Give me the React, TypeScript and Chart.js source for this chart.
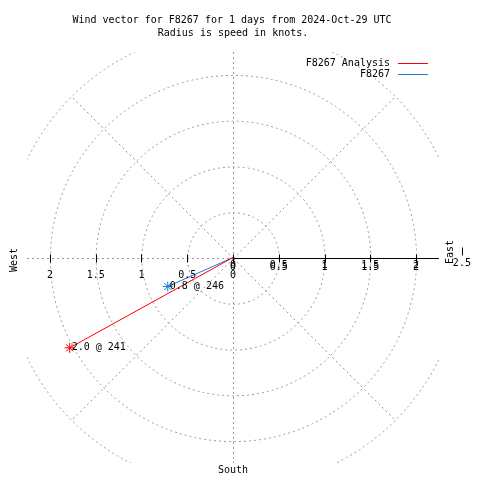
import React, { useEffect, useRef } from "react";
import { Chart, registerables } from "chart.js";

Chart.register(...registerables);

// ---- data ----
const titleLines = ["Wind vector for F8267 for 1 days from 2024-Oct-29 UTC", "Radius is speed in knots."];
const seriesNames = ["F8267 Analysis", "F8267"];
const seriesColors = ["#ff0000", "#1f78d8"];
const speeds = [2.04, 0.78]; // knots
const directions = [241, 246]; // degrees
const ringRadii = [0.5, 1, 1.5, 2, 2.5];
const spokeAngles = [45, 135, 225, 315];
const rightTicks = [0, 0.5, 1, 1.5, 2, 2.5];
const leftTicks = [2, 1.5, 1, 0.5, 0];
const compassLabels = ["West", "East", "South"];

const FONT = '10px "DejaVu Sans Mono", monospace';

function toXY(speed: number, dir: number) {
  const r = (dir * Math.PI) / 180;
  return { x: speed * Math.sin(r), y: speed * Math.cos(r) };
}

const polarPlugin = {
  id: "polarGrid",
  beforeDatasetsDraw(chart: any) {
    const { ctx, chartArea: a, scales } = chart;
    const xs = scales.x, ys = scales.y;
    const cx = Math.round(xs.getPixelForValue(0)) + 0.5;
    const cy = Math.round(ys.getPixelForValue(0)) + 0.5;
    const k = xs.getPixelForValue(1) - xs.getPixelForValue(0);
    ctx.save();
    ctx.beginPath();
    ctx.rect(a.left, a.top, a.right - a.left, a.bottom - a.top);
    ctx.clip();
    ctx.strokeStyle = "#999999";
    ctx.lineWidth = 1;
    ctx.setLineDash([2, 3]);
    for (const r of ringRadii) {
      ctx.beginPath();
      ctx.arc(cx, cy, r * k, 0, Math.PI * 2);
      ctx.stroke();
    }
    const rMax = ringRadii[ringRadii.length - 1];
    for (const ang of spokeAngles) {
      const t = (ang * Math.PI) / 180;
      ctx.beginPath();
      ctx.moveTo(cx, cy);
      ctx.lineTo(cx + Math.cos(t) * rMax * k, cy - Math.sin(t) * rMax * k);
      ctx.stroke();
    }
    ctx.beginPath();
    ctx.moveTo(cx, a.top);
    ctx.lineTo(cx, a.bottom);
    ctx.moveTo(a.left, cy);
    ctx.lineTo(cx, cy);
    ctx.stroke();
    ctx.restore();

    // solid polar axis to the right
    ctx.save();
    ctx.strokeStyle = "#000";
    ctx.lineWidth = 1;
    ctx.beginPath();
    ctx.moveTo(cx, cy);
    ctx.lineTo(a.right, cy);
    ctx.stroke();
    // ticks
    ctx.beginPath();
    for (const v of rightTicks) {
      const px = Math.round(xs.getPixelForValue(v)) + 0.5;
      if (v === 2.5) {
        ctx.moveTo(px, cy - 11);
        ctx.lineTo(px, cy - 3);
      } else {
        ctx.moveTo(px, cy - 4);
        ctx.lineTo(px, cy + 4);
      }
    }
    for (const v of leftTicks) {
      if (v === 0) continue;
      const px = Math.round(xs.getPixelForValue(-v)) + 0.5;
      ctx.moveTo(px, cy - 4);
      ctx.lineTo(px, cy + 4);
    }
    ctx.stroke();
    ctx.restore();
  },
  afterDatasetsDraw(chart: any) {
    const { ctx, scales } = chart;
    const xs = scales.x, ys = scales.y;
    const cx = xs.getPixelForValue(0);
    const cy = ys.getPixelForValue(0);
    ctx.save();
    ctx.font = FONT;
    ctx.fillStyle = "#000";
    ctx.textBaseline = "middle";
    // tick labels
    ctx.textAlign = "center";
    for (const v of leftTicks) {
      ctx.fillText(String(v), xs.getPixelForValue(-v), cy + 18);
    }
    for (const v of rightTicks) {
      const px = xs.getPixelForValue(v);
      if (v === 2.5) {
        ctx.fillText(String(v), px, cy + 6);
      } else {
        ctx.fillText(String(v), px, cy + 8);
        ctx.fillText(String(v), px, cy + 10);
      }
    }
    // point labels
    ctx.textAlign = "left";
    speeds.forEach((s, i) => {
      const p = toXY(s, directions[i]);
      ctx.fillText(
        s.toFixed(1) + " @ " + Math.round(directions[i]),
        xs.getPixelForValue(p.x) + 2,
        ys.getPixelForValue(p.y)
      );
    });
    // compass labels
    ctx.textAlign = "center";
    ctx.fillText(compassLabels[2], cx, 470);
    ctx.save();
    ctx.translate(14, 260);
    ctx.rotate(-Math.PI / 2);
    ctx.fillText(compassLabels[0], 0, 0);
    ctx.restore();
    ctx.save();
    ctx.translate(450, 252);
    ctx.rotate(-Math.PI / 2);
    ctx.fillText(compassLabels[1], 0, 0);
    ctx.restore();
    // title
    ctx.fillText(titleLines[0], 232, 20);
    ctx.fillText(titleLines[1], 233, 33);
    // legend
    ctx.textAlign = "right";
    seriesNames.forEach((n, i) => {
      const yy = 63 + i * 11;
      ctx.fillStyle = "#000";
      ctx.fillText(n, 390, yy);
      ctx.fillStyle = seriesColors[i];
      ctx.fillRect(398, yy, 30, 1);
    });
    ctx.restore();
  },
};

export default function App() {
  const ref = useRef<HTMLCanvasElement | null>(null);
  useEffect(() => {
    if (!ref.current) return;
    const datasets = speeds.map((s, i) => {
      const p = toXY(s, directions[i]);
      return {
        label: seriesNames[i],
        data: [{ x: 0, y: 0 }, { x: p.x, y: p.y }],
        showLine: true,
        borderColor: seriesColors[i],
        backgroundColor: seriesColors[i],
        borderWidth: 1,
        pointStyle: "star",
        pointRadius: [0, 5],
        pointBorderWidth: 1,
        pointBorderColor: seriesColors[i],
      };
    });
    const chart = new Chart(ref.current, {
      type: "scatter",
      data: { datasets: datasets as any },
      options: {
        responsive: false,
        animation: false,
        devicePixelRatio: 1,
        layout: { padding: { left: 27, top: 52, right: 41, bottom: 17 } },
        scales: {
          x: { type: "linear", min: -2.25, max: 2.25, display: false },
          y: { type: "linear", min: -2.25, max: 2.25, display: false },
        },
        plugins: { legend: { display: false }, title: { display: false }, tooltip: { enabled: false } },
      },
      plugins: [polarPlugin],
    });
    return () => chart.destroy();
  }, []);
  return (
    <div style={{ position: "fixed", left: 0, top: 0, width: 480, height: 480, background: "#fff" }}>
      <canvas ref={ref} width={480} height={480} />
    </div>
  );
}
